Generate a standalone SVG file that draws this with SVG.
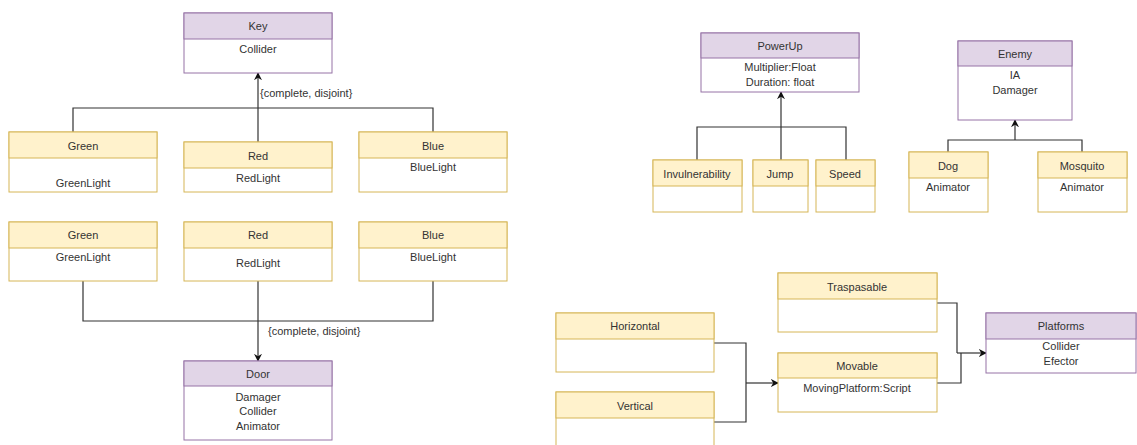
<svg xmlns="http://www.w3.org/2000/svg" width="1137" height="445" viewBox="0 0 1137 445">
  <style>
    text { font-family: "Liberation Sans", Arial, sans-serif; font-size: 11px; fill: #333333; text-anchor: middle; dominant-baseline: central; }
    .body-p { fill: #ffffff; stroke: #9673a6; stroke-width: 1; }
    .head-p { fill: #e1d5e7; stroke: #9673a6; stroke-width: 1; }
    .body-y { fill: #ffffff; stroke: #d6b656; stroke-width: 1; }
    .head-y { fill: #fff2cc; stroke: #d6b656; stroke-width: 1; }
    .edge { fill: none; stroke: #333333; stroke-width: 1.2; }
    .lbl { text-anchor: start; }
  </style>
  <defs>
    <marker id="arrow" viewBox="0 0 10 10" refX="9" refY="5" markerWidth="8" markerHeight="8" markerUnits="userSpaceOnUse" orient="auto">
      <path d="M0,0 L10,5 L0,10 L3,5 Z" fill="#111111"/>
    </marker>
  </defs>

  <rect width="1137" height="445" fill="#ffffff"/>

  <!-- connectors -->
  <g id="connectors">
    <path class="edge" d="M258,142 V73" marker-end="url(#arrow)"/>
    <path class="edge" d="M73,132 V108 H433 V132"/>
    <text class="lbl" x="260" y="93">{complete, disjoint}</text>

    <path class="edge" d="M83,281 V321 H433 V281"/>
    <path class="edge" d="M258,281 V361" marker-end="url(#arrow)"/>
    <text class="lbl" x="268" y="331">{complete, disjoint}</text>

    <path class="edge" d="M781,160 V92" marker-end="url(#arrow)"/>
    <path class="edge" d="M697,160 V127 H846 V160"/>

    <path class="edge" d="M1015,140 V120" marker-end="url(#arrow)"/>
    <path class="edge" d="M948,152 V140 H1082 V152"/>

    <path class="edge" d="M714,343 H746 V422 H714"/>
    <path class="edge" d="M746,383 H778" marker-end="url(#arrow)"/>

    <path class="edge" d="M937,303 H957 V353"/>
    <path class="edge" d="M937,383 H961 V353"/>
    <path class="edge" d="M957,353 H986" marker-end="url(#arrow)"/>
  </g>

  <!-- Key -->
  <g id="key">
    <rect class="body-p" x="184" y="13" width="148" height="60"/>
    <rect class="head-p" x="184" y="13" width="148" height="26"/>
    <text x="258" y="26">Key</text>
    <text x="258" y="49">Collider</text>
  </g>

  <g id="green1">
    <rect class="body-y" x="9" y="132" width="148" height="60"/>
    <rect class="head-y" x="9" y="132" width="148" height="26"/>
    <text x="83" y="146">Green</text>
    <text x="83" y="183">GreenLight</text>
  </g>
  <g id="red1">
    <rect class="body-y" x="184" y="142" width="148" height="50"/>
    <rect class="head-y" x="184" y="142" width="148" height="26"/>
    <text x="258" y="156">Red</text>
    <text x="258" y="178">RedLight</text>
  </g>
  <g id="blue1">
    <rect class="body-y" x="359" y="132" width="148" height="60"/>
    <rect class="head-y" x="359" y="132" width="148" height="26"/>
    <text x="433" y="146">Blue</text>
    <text x="433" y="167">BlueLight</text>
  </g>

  <g id="green2">
    <rect class="body-y" x="9" y="222" width="148" height="59"/>
    <rect class="head-y" x="9" y="222" width="148" height="26"/>
    <text x="83" y="235">Green</text>
    <text x="83" y="257">GreenLight</text>
  </g>
  <g id="red2">
    <rect class="body-y" x="184" y="222" width="148" height="59"/>
    <rect class="head-y" x="184" y="222" width="148" height="26"/>
    <text x="258" y="235">Red</text>
    <text x="258" y="263">RedLight</text>
  </g>
  <g id="blue2">
    <rect class="body-y" x="359" y="222" width="148" height="59"/>
    <rect class="head-y" x="359" y="222" width="148" height="26"/>
    <text x="433" y="235">Blue</text>
    <text x="433" y="257">BlueLight</text>
  </g>

  <g id="door">
    <rect class="body-p" x="184" y="361" width="148" height="79"/>
    <rect class="head-p" x="184" y="361" width="148" height="25"/>
    <text x="258" y="374">Door</text>
    <text x="258" y="397">Damager</text>
    <text x="258" y="411">Collider</text>
    <text x="258" y="426">Animator</text>
  </g>

  <!-- PowerUp -->
  <g id="powerup">
    <rect class="body-p" x="701" y="33" width="158" height="59"/>
    <rect class="head-p" x="701" y="33" width="158" height="25"/>
    <text x="780" y="46">PowerUp</text>
    <text x="780" y="67">Multiplier:Float</text>
    <text x="780" y="82">Duration: float</text>
  </g>
  <g id="invulnerability">
    <rect class="body-y" x="653" y="160" width="89" height="52"/>
    <rect class="head-y" x="653" y="160" width="89" height="26"/>
    <text x="697" y="174">Invulnerability</text>
  </g>
  <g id="jump">
    <rect class="body-y" x="753" y="160" width="55" height="52"/>
    <rect class="head-y" x="753" y="160" width="55" height="26"/>
    <text x="780" y="174">Jump</text>
  </g>
  <g id="speed">
    <rect class="body-y" x="816" y="160" width="59" height="52"/>
    <rect class="head-y" x="816" y="160" width="59" height="26"/>
    <text x="845" y="174">Speed</text>
  </g>

  <!-- Enemy -->
  <g id="enemy">
    <rect class="body-p" x="958" y="41" width="114" height="79"/>
    <rect class="head-p" x="958" y="41" width="114" height="25"/>
    <text x="1015" y="54">Enemy</text>
    <text x="1015" y="75">IA</text>
    <text x="1015" y="90">Damager</text>
  </g>
  <g id="dog">
    <rect class="body-y" x="909" y="152" width="79" height="60"/>
    <rect class="head-y" x="909" y="152" width="79" height="26"/>
    <text x="948" y="166">Dog</text>
    <text x="948" y="187">Animator</text>
  </g>
  <g id="mosquito">
    <rect class="body-y" x="1038" y="152" width="89" height="60"/>
    <rect class="head-y" x="1038" y="152" width="89" height="26"/>
    <text x="1082" y="166">Mosquito</text>
    <text x="1082" y="187">Animator</text>
  </g>

  <!-- Platforms -->
  <g id="horizontal">
    <rect class="body-y" x="556" y="313" width="158" height="59"/>
    <rect class="head-y" x="556" y="313" width="158" height="26"/>
    <text x="635" y="326">Horizontal</text>
  </g>
  <g id="vertical">
    <rect class="body-y" x="556" y="392" width="158" height="60"/>
    <rect class="head-y" x="556" y="392" width="158" height="26"/>
    <text x="635" y="406">Vertical</text>
  </g>
  <g id="traspasable">
    <rect class="body-y" x="778" y="273" width="159" height="59"/>
    <rect class="head-y" x="778" y="273" width="159" height="26"/>
    <text x="857" y="287">Traspasable</text>
  </g>
  <g id="movable">
    <rect class="body-y" x="778" y="353" width="159" height="59"/>
    <rect class="head-y" x="778" y="353" width="159" height="25"/>
    <text x="857" y="366">Movable</text>
    <text x="857" y="388">MovingPlatform:Script</text>
  </g>
  <g id="platforms">
    <rect class="body-p" x="986" y="313" width="150" height="60"/>
    <rect class="head-p" x="986" y="313" width="150" height="26"/>
    <text x="1061" y="326">Platforms</text>
    <text x="1061" y="346">Collider</text>
    <text x="1061" y="361">Efector</text>
  </g>
</svg>
